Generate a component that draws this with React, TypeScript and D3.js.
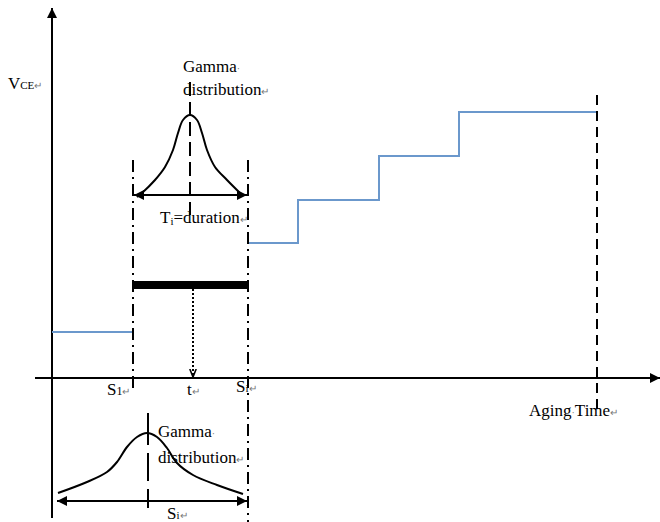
import React, { useEffect, useRef } from 'react';
import * as d3 from 'd3';

// step levels of V_CE over aging time (schematic units)
const stepStart = [0, 196, 246, 327, 407];
const stepEnd = [81, 246, 327, 407, 545];
const stepLevel = [46, 135, 178, 222, 266];

// interval markers on the time axis
const markerTimes = [81, 141, 196];
const agingEnd = 545;

// gamma distribution sketches
const topGammaX = [85, 90, 103, 113, 121, 126, 131, 138, 145, 150, 155, 163, 175, 190];
const topGammaY = [181, 185, 198, 211, 228, 245, 258, 263, 258, 245, 228, 211, 198, 183];
const botGammaX = [6, 35, 55, 65, 75, 85, 95, 105, 115, 125, 141, 165, 191];
const botGammaY = [-115, -104, -94, -84, -69, -59, -55, -59, -70, -85, -97, -107, -116];

const W = 660;
const H = 522;
const FONT = '"Liberation Serif", "Times New Roman", serif';
const BLUE = '#6b98cc';

const App = () => {
  const svgRef = useRef(null);

  useEffect(() => {
    const svg = d3.select(svgRef.current);
    svg.selectAll('*').remove();

    const x = d3.scaleLinear().domain([0, 600]).range([52, 652]);
    const y = d3.scaleLinear().domain([-150, 360]).range([528, 18]);

    const defs = svg.append('defs');
    defs.append('marker')
      .attr('id', 'tri')
      .attr('viewBox', '0 0 10 10')
      .attr('refX', 10).attr('refY', 5)
      .attr('markerWidth', 10).attr('markerHeight', 10)
      .attr('markerUnits', 'userSpaceOnUse')
      .attr('orient', 'auto-start-reverse')
      .append('path').attr('d', 'M0,0L10,5L0,10Z').attr('fill', '#000');
    defs.append('marker')
      .attr('id', 'small')
      .attr('viewBox', '0 0 10 10')
      .attr('refX', 10).attr('refY', 5)
      .attr('markerWidth', 8).attr('markerHeight', 8)
      .attr('markerUnits', 'userSpaceOnUse')
      .attr('orient', 'auto')
      .append('path').attr('d', 'M0,1L10,5L0,9').attr('fill', 'none')
      .attr('stroke', '#000').attr('stroke-width', 2);

    // axes
    svg.append('line')
      .attr('x1', x(0)).attr('x2', x(0))
      .attr('y1', 518).attr('y2', 8)
      .attr('stroke', '#000').attr('stroke-width', 2)
      .attr('marker-end', 'url(#tri)');
    svg.append('line')
      .attr('x1', 35).attr('x2', 660)
      .attr('y1', y(0)).attr('y2', y(0))
      .attr('stroke', '#000').attr('stroke-width', 2)
      .attr('marker-end', 'url(#tri)');

    // step line
    svg.append('line')
      .attr('x1', x(stepStart[0])).attr('x2', x(stepEnd[0]))
      .attr('y1', y(stepLevel[0])).attr('y2', y(stepLevel[0]))
      .attr('stroke', BLUE).attr('stroke-width', 2);
    const pts = stepStart.slice(1).map((s, i) => [s, stepLevel[i + 1]]);
    pts.push([stepEnd[stepEnd.length - 1], stepLevel[stepLevel.length - 1]]);
    svg.append('path')
      .attr('d', d3.line().x(d => x(d[0])).y(d => y(d[1])).curve(d3.curveStepAfter)(pts))
      .attr('fill', 'none').attr('stroke', BLUE).attr('stroke-width', 2);

    // dash-dot interval bounds
    const dashDot = '12,5,2,5';
    svg.append('line')
      .attr('x1', x(markerTimes[0])).attr('x2', x(markerTimes[0]))
      .attr('y1', y(218)).attr('y2', y(-14))
      .attr('stroke', '#000').attr('stroke-width', 2).attr('stroke-dasharray', dashDot);
    svg.append('line')
      .attr('x1', x(markerTimes[2])).attr('x2', x(markerTimes[2]))
      .attr('y1', y(218)).attr('y2', y(-144))
      .attr('stroke', '#000').attr('stroke-width', 2).attr('stroke-dasharray', dashDot);

    // aging end
    svg.append('line')
      .attr('x1', x(agingEnd)).attr('x2', x(agingEnd))
      .attr('y1', y(283)).attr('y2', y(-32))
      .attr('stroke', '#000').attr('stroke-width', 2).attr('stroke-dasharray', '10,6');

    // top gamma curve
    const curve = d3.line().x(d => x(d[0])).y(d => y(d[1])).curve(d3.curveCatmullRom);
    svg.append('path')
      .attr('d', curve(topGammaX.map((v, i) => [v, topGammaY[i]])))
      .attr('fill', 'none').attr('stroke', '#000').attr('stroke-width', 2);
    svg.append('line')
      .attr('x1', x(138)).attr('x2', x(138))
      .attr('y1', y(296)).attr('y2', y(163))
      .attr('stroke', '#000').attr('stroke-width', 2).attr('stroke-dasharray', '14,6');
    svg.append('line')
      .attr('x1', x(markerTimes[0]) + 1).attr('x2', x(markerTimes[2]) - 1)
      .attr('y1', y(183)).attr('y2', y(183))
      .attr('stroke', '#000').attr('stroke-width', 2)
      .attr('marker-start', 'url(#tri)').attr('marker-end', 'url(#tri)');

    // thick duration bar
    svg.append('line')
      .attr('x1', x(markerTimes[0])).attr('x2', x(markerTimes[2]) - 1)
      .attr('y1', y(93)).attr('y2', y(93))
      .attr('stroke', '#000').attr('stroke-width', 8);

    // dotted arrow down to t
    svg.append('line')
      .attr('x1', x(markerTimes[1])).attr('x2', x(markerTimes[1]))
      .attr('y1', y(89)).attr('y2', y(1))
      .attr('stroke', '#000').attr('stroke-width', 2).attr('stroke-dasharray', '2,2')
      .attr('marker-end', 'url(#small)');

    // bottom gamma curve
    svg.append('path')
      .attr('d', curve(botGammaX.map((v, i) => [v, botGammaY[i]])))
      .attr('fill', 'none').attr('stroke', '#000').attr('stroke-width', 2);
    svg.append('line')
      .attr('x1', x(96)).attr('x2', x(96))
      .attr('y1', y(-35)).attr('y2', y(-130))
      .attr('stroke', '#000').attr('stroke-width', 2).attr('stroke-dasharray', '32,8,28,8');
    svg.append('line')
      .attr('x1', x(5)).attr('x2', x(markerTimes[2]) - 1)
      .attr('y1', y(-123)).attr('y2', y(-123))
      .attr('stroke', '#000').attr('stroke-width', 2)
      .attr('marker-start', 'url(#tri)').attr('marker-end', 'url(#tri)');

    // texts
    const label = (px, py, parts) => {
      const t = svg.append('text')
        .attr('x', px).attr('y', py)
        .attr('font-family', FONT).attr('font-size', 17).attr('fill', '#000');
      parts.forEach(p => {
        const s = t.append('tspan').text(p.text);
        if (p.size) s.attr('font-size', p.size);
        if (p.fill) s.attr('fill', p.fill);
        if (p.dy) s.attr('dy', p.dy);
      });
    };
    const mark = { text: '\u21b5', size: 10, fill: '#777' };
    const dot = { text: '\u00b7', size: 10, fill: '#777' };

    label(8, 89, [{ text: 'V' }, { text: 'CE', size: 11 }, mark]);
    label(183, 72, [{ text: 'Gamma' }, dot]);
    label(183, 95, [{ text: 'distribution' }, mark]);
    label(160, 223, [{ text: 'T' }, { text: 'i', size: 11, dy: 2 }, { text: '=duration', dy: -2 }, mark]);
    label(x(markerTimes[0]) - 26, 395, [{ text: 'S' }, { text: '1', size: 12 }, mark]);
    label(x(markerTimes[1]) - 6, 395, [{ text: 't' }, mark]);
    label(x(markerTimes[2]) - 12, 392, [{ text: 'S' }, { text: 'i', size: 11 }, mark]);
    label(529, 416, [{ text: 'Aging' }, dot, { text: 'Time' }, mark]);
    label(158, 437, [{ text: 'Gamma' }, dot]);
    label(158, 463, [{ text: 'distribution' }, mark]);
    label(167, 519, [{ text: 'S' }, { text: 'i', size: 11 }, mark]);
  }, []);

  return (
    <svg ref={svgRef} width={W} height={H}
      style={{ position: 'absolute', left: 0, top: 0, background: '#fff' }} />
  );
};

export default App;
